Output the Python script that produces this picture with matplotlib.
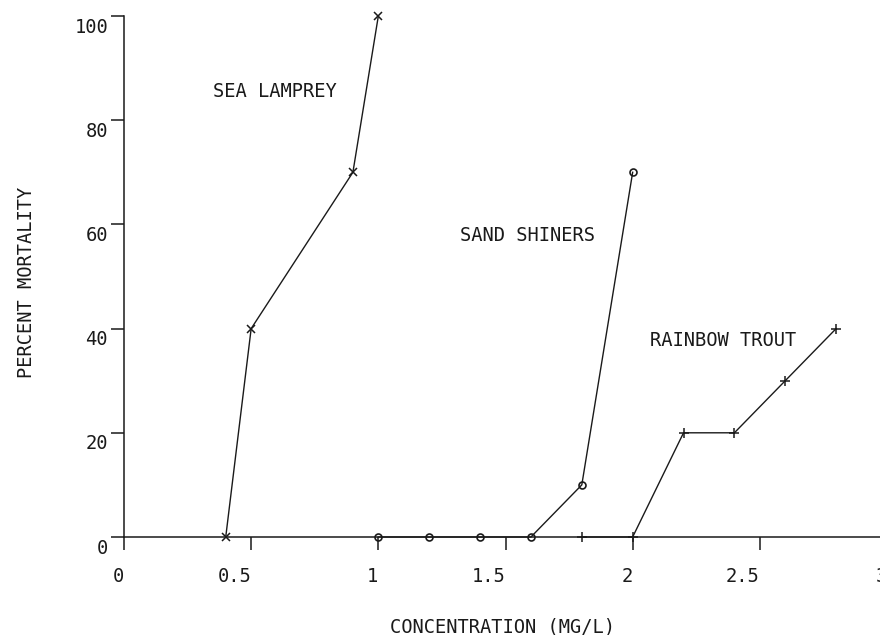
import matplotlib
matplotlib.use('Agg')
import matplotlib.pyplot as plt
import matplotlib.transforms as mtransforms

# ---- Data: percent mortality vs. concentration ----
lamprey_conc = [0.4, 0.5, 0.9, 1.0]
lamprey_mort = [0, 40, 70, 100]

shiner_conc = [1.0, 1.2, 1.4, 1.6, 1.8, 2.0]
shiner_mort = [0, 0, 0, 0, 10, 70]

trout_conc = [1.8, 2.0, 2.2, 2.4, 2.6, 2.8]
trout_mort = [0, 0, 20, 20, 30, 40]

x_ticks = [0, 0.5, 1, 1.5, 2, 2.5, 3]
x_tick_labels = ['0', '0.5', '1', '1.5', '2', '2.5', '3']
y_ticks = [0, 20, 40, 60, 80, 100]
y_tick_labels = ['0', '20', '40', '60', '80', '100']

FONT = 'DejaVu Sans Mono'
FS = 13.5
INK = '#1a1a1a'

fig = plt.figure(figsize=(8.8, 6.35), dpi=100)
ax = fig.add_axes([124 / 880, 98 / 635, 763 / 880, 521 / 635])

ax.plot(lamprey_conc, lamprey_mort, color=INK, lw=1.0, marker='x',
        ms=6, mew=1.1, clip_on=False)
ax.plot(shiner_conc, shiner_mort, color=INK, lw=1.0, marker='o',
        ms=5, mew=1.2, mfc='none', clip_on=False)
ax.plot(trout_conc, trout_mort, color=INK, lw=1.0, marker='+',
        ms=7, mew=1.1, clip_on=False)

ax.set_xlim(0, 3)
ax.set_ylim(0, 100)

for side in ['top', 'right']:
    ax.spines[side].set_visible(False)
for side in ['left', 'bottom']:
    ax.spines[side].set_color(INK)
    ax.spines[side].set_linewidth(1.1)

ax.set_xticks(x_ticks)
ax.set_xticklabels(x_tick_labels, fontfamily=FONT, fontsize=FS, ha='right')
ax.set_yticks(y_ticks)
ax.set_yticklabels(y_tick_labels, fontfamily=FONT, fontsize=FS)
ax.tick_params(axis='both', direction='out', length=9.5, width=1.1,
               color=INK, labelcolor=INK)
ax.tick_params(axis='x', pad=12)
ax.tick_params(axis='y', pad=2)

# plotter-style y labels sit a little below their ticks
y_shift = mtransforms.ScaledTranslation(0, -6.5 / 72, fig.dpi_scale_trans)
for lbl in ax.get_yticklabels():
    lbl.set_transform(lbl.get_transform() + y_shift)

# series names
ax.text(0.35, 85.5, 'SEA LAMPREY', fontfamily=FONT, fontsize=FS, color=INK,
        va='center', ha='left')
ax.text(1.32, 57.8, 'SAND SHINERS', fontfamily=FONT, fontsize=FS, color=INK,
        va='center', ha='left')
ax.text(2.07, 37.8, 'RAINBOW TROUT', fontfamily=FONT, fontsize=FS, color=INK,
        va='center', ha='left')

fig.text(503 / 880, 1 - 627 / 635, 'CONCENTRATION (MG/L)', fontfamily=FONT,
         fontsize=FS, color=INK, ha='center', va='center')
fig.text(27 / 880, 1 - 282 / 635, 'PERCENT MORTALITY', fontfamily=FONT,
         fontsize=FS, color=INK, ha='center', va='center', rotation=90)

fig.savefig('out.png', dpi=100)
